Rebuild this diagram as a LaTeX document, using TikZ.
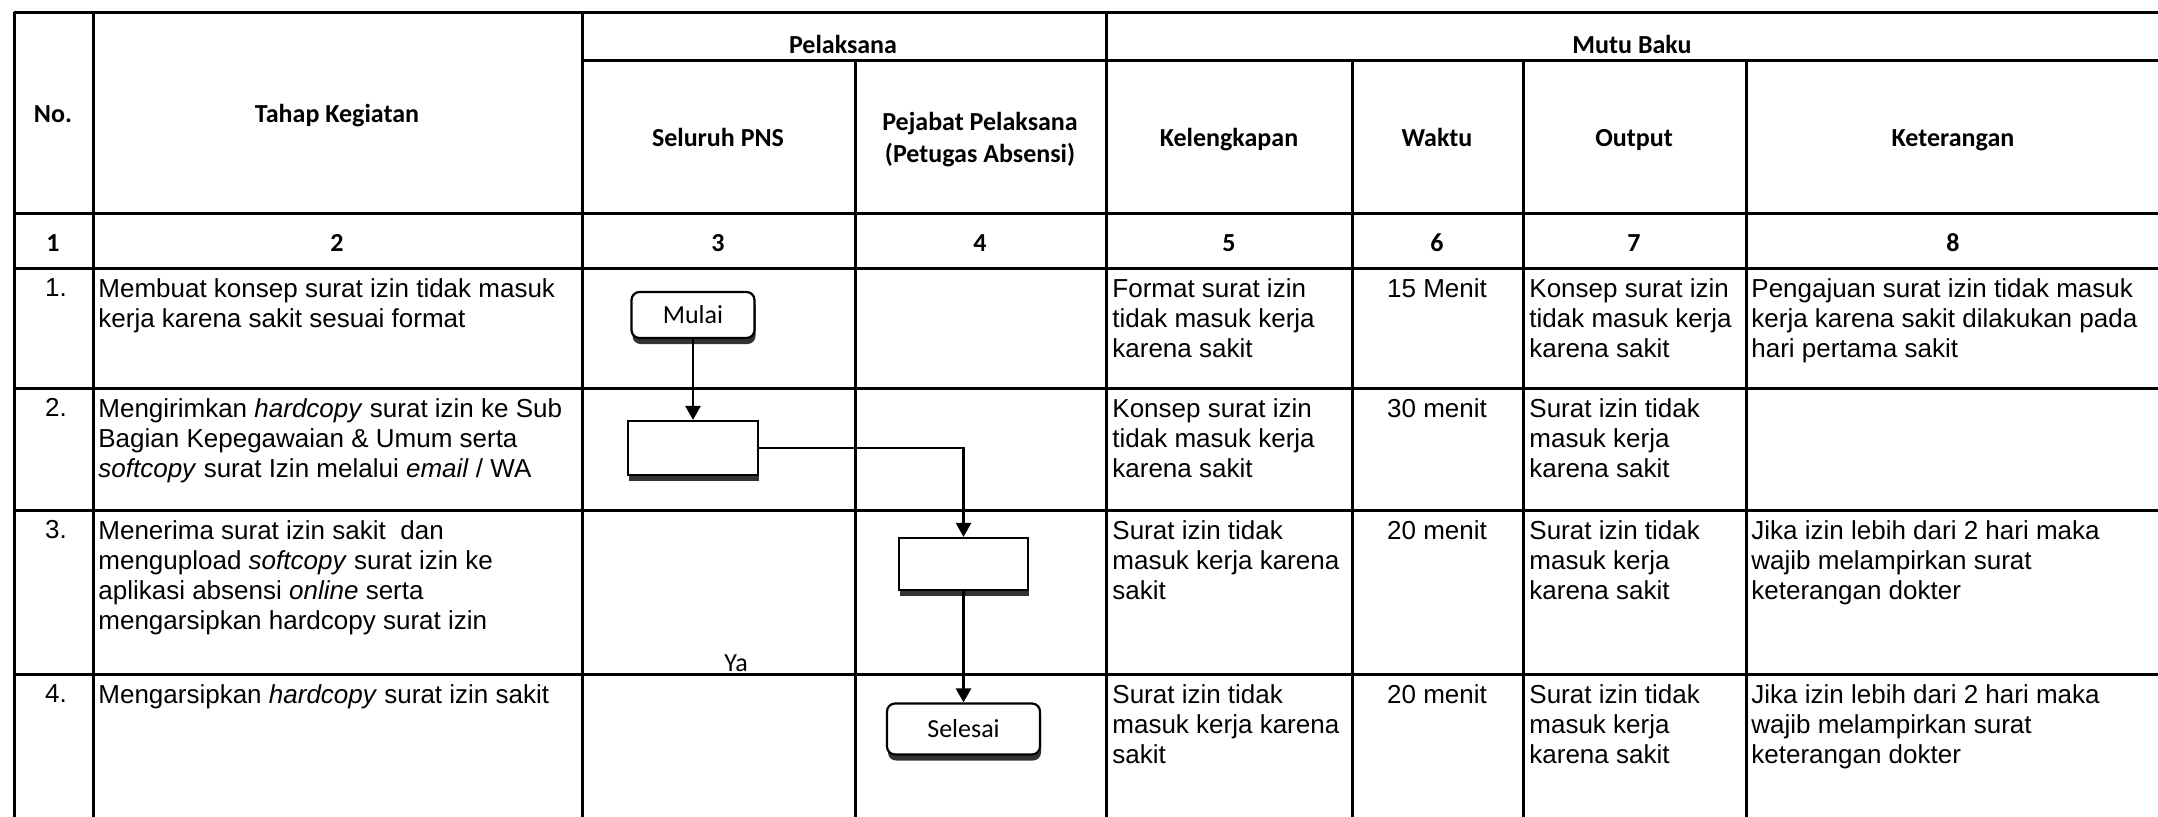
\documentclass[tikz,border=0pt]{standalone}
\usepackage{fontspec}
\setmainfont{Liberation Sans}
\newfontfamily\calibri{Carlito}
\usetikzlibrary{arrows.meta,shadows}

\begin{document}
\begin{tikzpicture}[
  x=0.5pt, y=-0.5pt,
  grid/.style={line width=1.5pt, black},
  head/.style={font=\calibri\bfseries\fontsize{13}{16}\selectfont,
    align=center, inner sep=0pt},
  cell/.style={font=\fontsize{13}{15}\selectfont, align=left,
    anchor=north west, inner sep=0pt},
  mid/.style={cell, anchor=north, align=center},
  terminal/.style={draw, line width=1.1pt, rounded corners=4pt, fill=white,
    inner sep=0pt, font=\calibri\fontsize{13}{15}\selectfont,
    drop shadow={shadow xshift=0.5pt, shadow yshift=-3pt, fill=black, opacity=0.8}},
  process/.style={draw, line width=1.1pt, fill=white, inner sep=0pt,
    minimum width=65pt, minimum height=27pt,
    drop shadow={shadow xshift=0.5pt, shadow yshift=-3pt, fill=black, opacity=0.8}},
  arr/.style={-{Triangle[width=7.5pt,length=7pt]}, line width=1.3pt},
]
  \useasboundingbox (0,0) rectangle (2158,816);
  \clip (0,0) rectangle (2158,816);

  % table grid
  \draw[grid] (14,12) -- (2170,12);
  \draw[grid] (582,60) -- (2170,60);
  \foreach \y in {213,268,388,510,674}
    \draw[grid] (14,\y) -- (2170,\y);
  \foreach \x in {14,93,582,1106}
    \draw[grid] (\x,12) -- (\x,830);
  \foreach \x in {855,1352,1523,1746}
    \draw[grid] (\x,60) -- (\x,830);

  % header
  \node[head, anchor=base] (pel) at (843,53) {Pelaksana};
  \node[head, anchor=base] (mutu) at (1632,53) {Mutu Baku};
  \node[head, anchor=base] (no) at (53,122) {No.};
  \node[head, anchor=base] (tahap) at (337,122) {Tahap Kegiatan};
  \node[head, anchor=base] (pns) at (718,146) {Seluruh PNS};
  \node[head] (pejabat) at (980,140) {Pejabat Pelaksana\\(Petugas Absensi)};
  \node[head, anchor=base] (lengkap) at (1229,146) {Kelengkapan};
  \node[head, anchor=base] (waktu) at (1437,146) {Waktu};
  \node[head, anchor=base] (output) at (1634,146) {Output};
  \node[head, anchor=base] (ket) at (1953,146) {Keterangan};

  % column numbers
  \node[head, anchor=base] (n1) at (53,251) {1};
  \node[head, anchor=base] (n2) at (337,251) {2};
  \node[head, anchor=base] (n3) at (718,251) {3};
  \node[head, anchor=base] (n4) at (980,251) {4};
  \node[head, anchor=base] (n5) at (1229,251) {5};
  \node[head, anchor=base] (n6) at (1437,251) {6};
  \node[head, anchor=base] (n7) at (1634,251) {7};
  \node[head, anchor=base] (n8) at (1953,251) {8};

  % row 1
  \node[mid] (no1) at (56,278) {1.};
  \node[cell] (tahap1) at (98,278) {Membuat konsep surat izin tidak masuk\\kerja karena sakit sesuai format};
  \node[cell] (lengkap1) at (1112,278) {Format surat izin\\tidak masuk kerja\\karena sakit};
  \node[mid] (waktu1) at (1437,278) {15 Menit};
  \node[cell] (output1) at (1529,278) {Konsep surat izin\\tidak masuk kerja\\karena sakit};
  \node[cell] (ket1) at (1751,278) {Pengajuan surat izin tidak masuk\\kerja karena sakit dilakukan pada\\hari pertama sakit};

  % row 2
  \node[mid] (no2) at (56,398) {2.};
  \node[cell] (tahap2) at (98,398) {Mengirimkan \textit{hardcopy} surat izin ke Sub\\Bagian Kepegawaian \& Umum serta\\\textit{softcopy} surat Izin melalui \textit{email} / WA};
  \node[cell] (lengkap2) at (1112,398) {Konsep surat izin\\tidak masuk kerja\\karena sakit};
  \node[mid] (waktu2) at (1437,398) {30 menit};
  \node[cell] (output2) at (1529,398) {Surat izin tidak\\masuk kerja\\karena sakit};

  % row 3
  \node[mid] (no3) at (56,520) {3.};
  \node[cell] (tahap3) at (98,520) {Menerima surat izin sakit\ \ dan\\mengupload \textit{softcopy} surat izin ke\\aplikasi absensi \textit{online} serta\\mengarsipkan hardcopy surat izin};
  \node[cell] (lengkap3) at (1112,520) {Surat izin tidak\\masuk kerja karena\\sakit};
  \node[mid] (waktu3) at (1437,520) {20 menit};
  \node[cell] (output3) at (1529,520) {Surat izin tidak\\masuk kerja\\karena sakit};
  \node[cell] (ket3) at (1751,520) {Jika izin lebih dari 2 hari maka\\wajib melampirkan surat\\keterangan dokter};

  % row 4
  \node[mid] (no4) at (56,684) {4.};
  \node[cell] (tahap4) at (98,684) {Mengarsipkan \textit{hardcopy} surat izin sakit};
  \node[cell] (lengkap4) at (1112,684) {Surat izin tidak\\masuk kerja karena\\sakit};
  \node[mid] (waktu4) at (1437,684) {20 menit};
  \node[cell] (output4) at (1529,684) {Surat izin tidak\\masuk kerja\\karena sakit};
  \node[cell] (ket4) at (1751,684) {Jika izin lebih dari 2 hari maka\\wajib melampirkan surat\\keterangan dokter};

  % flow
  \node[terminal, minimum width=61.5pt, minimum height=23pt] (mulai) at (693,315) {Mulai};
  \node[process] (kirim) at (693,448) {};
  \node[process, minimum width=64.5pt, minimum height=26pt] (terima) at (963.5,564) {};
  \node[terminal, minimum width=76.5pt, minimum height=25.5pt] (selesai) at (963.5,729) {Selesai};
  \node[font=\calibri\fontsize{13}{15}\selectfont, anchor=base, inner sep=0pt] (ya) at (736,671) {Ya};

  \draw[arr] (mulai) -- (kirim);
  \draw[arr] (kirim.east) -| (terima.north);
  \draw[arr] (terima) -- (selesai);
\end{tikzpicture}
\end{document}
